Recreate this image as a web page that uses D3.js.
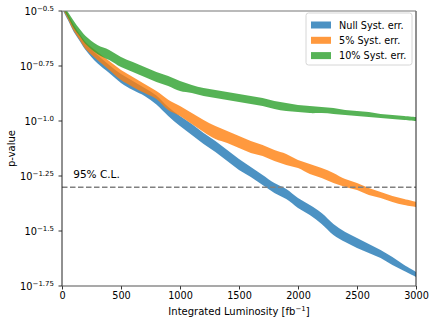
<!DOCTYPE html>
<html>
<head>
<meta charset="utf-8">
<script src="https://cdn.jsdelivr.net/npm/d3@7"></script>
<style>
  body { margin: 0; background: #fff; }
  svg { font-family: "DejaVu Sans", sans-serif; }
</style>
</head>
<body>
<svg id="chart" width="436" height="327"></svg>
<script>
// luminosity samples [fb^-1]
const lumi = [0, 50, 100, 150, 200, 300, 400, 500, 600, 700, 800, 900, 1000, 1100, 1200, 1300, 1400,
  1500, 1600, 1700, 1800, 1900, 2000, 2100, 2200, 2300, 2400, 2500, 2600, 2700, 2800, 2900, 3000];

// band edges, given as log10(p-value)
const nullHi = [-0.468, -0.518, -0.568, -0.609, -0.645, -0.700, -0.745, -0.786, -0.818, -0.850, -0.884, -0.936, -0.977,
  -1.014, -1.055, -1.091, -1.132, -1.173, -1.209, -1.245, -1.282, -1.309, -1.350, -1.382, -1.418, -1.468, -1.505,
  -1.532, -1.559, -1.586, -1.618, -1.655, -1.686];
const nullLo = [-0.491, -0.541, -0.595, -0.636, -0.677, -0.738, -0.782, -0.827, -0.859, -0.886, -0.925, -0.977, -1.023,
  -1.064, -1.105, -1.141, -1.182, -1.223, -1.255, -1.291, -1.327, -1.355, -1.395, -1.427, -1.468, -1.518, -1.550,
  -1.577, -1.600, -1.623, -1.655, -1.682, -1.709];

const fiveHi = [-0.464, -0.514, -0.564, -0.605, -0.641, -0.686, -0.727, -0.768, -0.800, -0.832, -0.864, -0.903, -0.932,
  -0.964, -0.995, -1.023, -1.045, -1.068, -1.091, -1.109, -1.132, -1.150, -1.177, -1.195, -1.214, -1.236, -1.264,
  -1.282, -1.305, -1.323, -1.341, -1.355, -1.368];
const fiveLo = [-0.486, -0.536, -0.591, -0.632, -0.673, -0.723, -0.768, -0.814, -0.845, -0.873, -0.900, -0.950, -0.977,
  -1.014, -1.050, -1.082, -1.100, -1.123, -1.145, -1.159, -1.182, -1.200, -1.214, -1.241, -1.259, -1.282, -1.300,
  -1.314, -1.336, -1.350, -1.368, -1.382, -1.391];

const tenHi = [-0.459, -0.505, -0.545, -0.582, -0.614, -0.655, -0.677, -0.709, -0.732, -0.755, -0.777, -0.795, -0.818,
  -0.836, -0.850, -0.859, -0.868, -0.877, -0.886, -0.895, -0.909, -0.918, -0.927, -0.932, -0.936, -0.941, -0.950,
  -0.955, -0.959, -0.968, -0.973, -0.977, -0.982];
const tenLo = [-0.482, -0.527, -0.577, -0.614, -0.650, -0.695, -0.723, -0.755, -0.777, -0.800, -0.823, -0.841, -0.864,
  -0.873, -0.886, -0.895, -0.905, -0.914, -0.923, -0.932, -0.945, -0.955, -0.959, -0.964, -0.964, -0.968, -0.973,
  -0.977, -0.982, -0.986, -0.991, -0.995, -1.000];

const seriesNames = ["Null Syst. err.", "5% Syst. err.", "10% Syst. err."];
const seriesColors = ["#1f77b4", "#ff7f0e", "#2ca02c"];
const xTicks = [0, 500, 1000, 1500, 2000, 2500, 3000];
const yTickExps = [-0.5, -0.75, -1.0, -1.25, -1.5, -1.75];
const yTickLabels = ["\u22120.5", "\u22120.75", "\u22121.0", "\u22121.25", "\u22121.5", "\u22121.75"];
const clLevel = 0.05;

const svg = d3.select("#chart");
const m = { left: 62, right: 416, top: 11, bottom: 286 };

const x = d3.scaleLinear().domain([0, 3000]).range([m.left, m.right]);
const y = d3.scaleLog().domain([Math.pow(10, -1.75), Math.pow(10, -0.5)]).range([m.bottom, m.top]);

svg.append("clipPath").attr("id", "plot-clip")
  .append("rect")
  .attr("x", m.left).attr("y", m.top)
  .attr("width", m.right - m.left).attr("height", m.bottom - m.top);

const bands = [[nullLo, nullHi], [fiveLo, fiveHi], [tenLo, tenHi]].map(([lo, hi]) =>
  lumi.map((L, i) => ({ L: L, lo: Math.pow(10, lo[i]), hi: Math.pow(10, hi[i]) })));

const area = d3.area()
  .x(d => x(d.L))
  .y0(d => y(d.lo))
  .y1(d => y(d.hi))
  .curve(d3.curveCatmullRom);

const plot = svg.append("g").attr("clip-path", "url(#plot-clip)");

plot.selectAll("path.band")
  .data(bands)
  .enter()
  .append("path")
  .attr("class", "band")
  .attr("d", area)
  .attr("fill", (d, i) => seriesColors[i])
  .attr("fill-opacity", 0.8);

// 95% CL line
plot.append("line")
  .attr("x1", m.left).attr("x2", m.right)
  .attr("y1", y(clLevel)).attr("y2", y(clLevel))
  .attr("stroke", "#808080")
  .attr("stroke-width", 1.5)
  .attr("stroke-dasharray", "5.5,2.5");

svg.append("text")
  .attr("x", x(95))
  .attr("y", y(clLevel) - 9)
  .attr("font-size", 10.5)
  .attr("fill", "#000")
  .text("95% C.L.");

// x axis
const xAxis = svg.append("g")
  .attr("transform", `translate(0,${m.bottom})`)
  .call(d3.axisBottom(x).tickValues(xTicks).tickSize(3.5).tickPadding(3).tickFormat(d3.format("d")));
xAxis.select(".domain").remove();
xAxis.selectAll("text").attr("font-size", 9.7).attr("font-family", "DejaVu Sans").attr("fill", "#000");
xAxis.selectAll("line").attr("stroke", "#000").attr("stroke-width", 0.8);

// y axis ticks
const yAxis = svg.append("g");
yAxis.selectAll("line")
  .data(yTickExps)
  .enter()
  .append("line")
  .attr("x1", m.left - 3.5).attr("x2", m.left)
  .attr("y1", d => y(Math.pow(10, d))).attr("y2", d => y(Math.pow(10, d)))
  .attr("stroke", "#000").attr("stroke-width", 0.8);

const yLab = yAxis.selectAll("text")
  .data(yTickExps)
  .enter()
  .append("text")
  .attr("x", m.left - 8)
  .attr("y", d => y(Math.pow(10, d)) + 4)
  .attr("text-anchor", "end")
  .attr("font-size", 9.8)
  .attr("fill", "#000");
yLab.append("tspan").text("10");
yLab.append("tspan").attr("dy", -4.5).attr("font-size", 7).text((d, i) => yTickLabels[i]);

// spines
svg.append("line").attr("x1", m.left).attr("x2", m.left).attr("y1", m.top).attr("y2", m.bottom)
  .attr("stroke", "#222").attr("stroke-width", 1);
svg.append("line").attr("x1", m.right).attr("x2", m.right).attr("y1", m.top).attr("y2", m.bottom)
  .attr("stroke", "#222").attr("stroke-width", 1);
svg.append("line").attr("x1", m.left).attr("x2", m.right).attr("y1", m.top).attr("y2", m.top)
  .attr("stroke", "#777").attr("stroke-width", 1.2);
svg.append("line").attr("x1", m.left).attr("x2", m.right).attr("y1", m.bottom).attr("y2", m.bottom)
  .attr("stroke", "#555").attr("stroke-width", 1.2);

// axis labels
const xLabel = svg.append("text")
  .attr("x", (m.left + m.right) / 2)
  .attr("y", 315)
  .attr("text-anchor", "middle")
  .attr("font-size", 10)
  .attr("fill", "#000");
xLabel.append("tspan").text("Integrated Luminosity [fb");
xLabel.append("tspan").attr("dy", -4).attr("font-size", 7).text("\u22121");
xLabel.append("tspan").attr("dy", 4).text("]");

svg.append("text")
  .attr("transform", `translate(15,${(m.top + m.bottom) / 2}) rotate(-90)`)
  .attr("text-anchor", "middle")
  .attr("font-size", 10)
  .attr("fill", "#000")
  .text("p-value");

// legend
const legend = svg.append("g").attr("transform", "translate(306,13)");
legend.append("rect")
  .attr("width", 106).attr("height", 52)
  .attr("rx", 2.5)
  .attr("fill", "#fff").attr("fill-opacity", 0.8)
  .attr("stroke", "#ccc").attr("stroke-width", 0.8);

const legRow = legend.selectAll("g.row")
  .data(seriesNames)
  .enter()
  .append("g")
  .attr("class", "row")
  .attr("transform", (d, i) => `translate(5,${8.5 + i * 15.3})`);
legRow.append("rect")
  .attr("width", 20).attr("height", 7)
  .attr("fill", (d, i) => seriesColors[i])
  .attr("fill-opacity", 0.8);
legRow.append("text")
  .attr("x", 28).attr("y", 7)
  .attr("font-size", 9.7)
  .attr("fill", "#000")
  .text(d => d);
</script>
</body>
</html>
